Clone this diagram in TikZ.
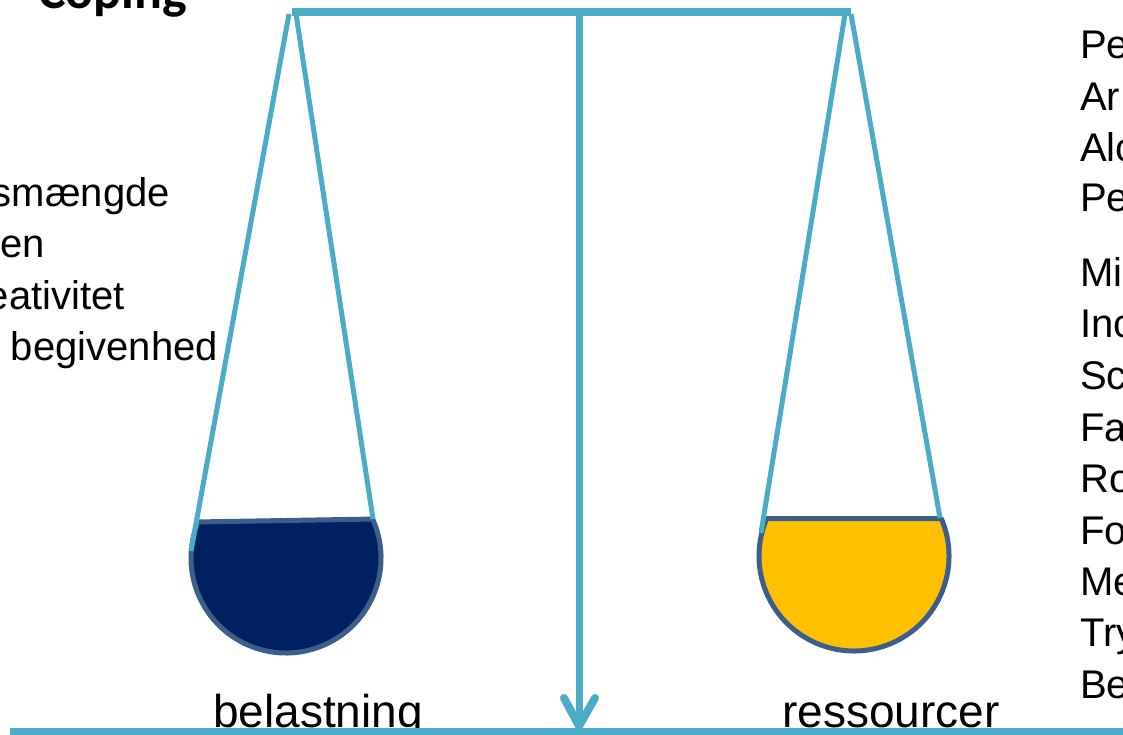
\documentclass[tikz,border=0pt]{standalone}
\usepackage{fontspec}
\setmainfont{Liberation Sans}
\newfontfamily\copingfont{Carlito}
\definecolor{scalec}{HTML}{4BACC6}
\definecolor{bowlline}{HTML}{3B5E8C}
\definecolor{navyfill}{HTML}{002060}
\definecolor{goldfill}{HTML}{FFC000}
\begin{document}
\begin{tikzpicture}[x=1pt,y=1pt,yscale=-1,
  rod/.style={draw=scalec, line width=#1},
  bowl/.style={draw=bowlline, line width=5pt, line join=round},
  listtext/.style={font=\fontsize{40}{48}\selectfont, inner sep=0pt},
  bigtext/.style={font=\fontsize{46}{55}\selectfont, inner sep=0pt, anchor=base}]
\useasboundingbox (0,0) rectangle (1123,735);
% coordinates
\coordinate (beamL) at (292,12);
\coordinate (beamR) at (851,12);
\coordinate (pivot) at (579,12);
\coordinate (tip) at (579,726);
\coordinate (wingL) at (564,698);
\coordinate (wingR) at (595,698);
\coordinate (groundL) at (10,732);
\coordinate (groundR) at (1123,732);
\coordinate (lsA) at (289,14);
\coordinate (lsB) at (296,14);
\coordinate (rsA) at (845,14);
\coordinate (rsB) at (851,14);
\coordinate (lbA) at (191,551);
\coordinate (lbB) at (373,519);
\coordinate (rbA) at (761,533);
\coordinate (rbB) at (940,518);
% text
\node[font=\copingfont\bfseries\fontsize{52}{62}\selectfont, anchor=base west, inner sep=0pt] (coping) at (38,9) {Coping};
\node[listtext, anchor=base east] (l1) at (170,207) {smængde};
\node[listtext, anchor=base east] (l2) at (45,258) {en};
\node[listtext, anchor=base east] (l3) at (125,309) {eativitet};
\node[listtext, anchor=base east] (l4) at (218,360) {begivenhed};
\node[listtext, anchor=base west] (r1) at (1080,59) {Pe};
\node[listtext, anchor=base west] (r2) at (1080,111) {Ar};
\node[listtext, anchor=base west] (r3) at (1080,162) {Alc};
\node[listtext, anchor=base west] (r4) at (1080,212) {Pe};
\node[listtext, anchor=base west] (r5) at (1080,286) {Mi};
\node[listtext, anchor=base west] (r6) at (1080,337) {Inc};
\node[listtext, anchor=base west] (r7) at (1080,389) {Sc};
\node[listtext, anchor=base west] (r8) at (1080,441) {Fa};
\node[listtext, anchor=base west] (r9) at (1080,492) {Ro};
\node[listtext, anchor=base west] (r10) at (1080,544) {Fo};
\node[listtext, anchor=base west] (r11) at (1080,595) {Me};
\node[listtext, anchor=base west] (r12) at (1080,646) {Try};
\node[listtext, anchor=base west] (r13) at (1080,698) {Be};
\node[bigtext] (bel) at (318,727) {belastning};
\node[bigtext] (res) at (891,727) {ressourcer};
% bowls
\filldraw[bowl, fill=navyfill] (286,558) ++(-24.2:95) arc[start angle=-24.2, end angle=202.3, radius=95] -- cycle;
\filldraw[bowl, fill=goldfill] (854,556) ++(-23.2:95) arc[start angle=-23.2, end angle=203.2, radius=95] -- cycle;
% strings
\draw[rod=5pt] (lsA) -- (lbA);
\draw[rod=5pt] (lsB) -- (lbB);
\draw[rod=5pt] (rsA) -- (rbA);
\draw[rod=5pt] (rsB) -- (rbB);
% beam and pointer
\draw[rod=7pt] (pivot) -- (tip);
\draw[rod=8pt, line cap=round, line join=round] (wingL) -- (tip) -- (wingR);
\draw[rod=8pt] (beamL) -- (beamR);
\draw[rod=8pt] (groundL) -- (groundR);
\end{tikzpicture}
\end{document}
